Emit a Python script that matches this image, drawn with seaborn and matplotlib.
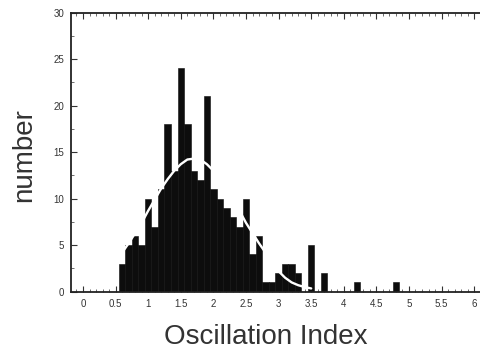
import numpy as np
import pandas as pd
import matplotlib
matplotlib.use("Agg")
import matplotlib.pyplot as plt
import seaborn as sns
from matplotlib.ticker import MultipleLocator, FixedLocator

# ---- data ----
bin_centers = [0.6, 0.7, 0.8, 0.9, 1.0, 1.1, 1.2, 1.3, 1.4, 1.5,
               1.6, 1.7, 1.8, 1.9, 2.0, 2.1, 2.2, 2.3, 2.4, 2.5,
               2.6, 2.7, 2.8, 2.9, 3.0, 3.1, 3.2, 3.3, 3.4, 3.5,
               3.6, 3.7, 3.8, 3.9, 4.0, 4.1, 4.2, 4.3, 4.4, 4.5,
               4.6, 4.7, 4.8]
counts = [3, 5, 6, 5, 10, 7, 11, 18, 13, 24,
          18, 13, 12, 21, 11, 10, 9, 8, 7, 10,
          4, 6, 1, 1, 2, 3, 3, 2, 0, 5,
          0, 2, 0, 0, 0, 0, 1, 0, 0, 0,
          0, 0, 1]
bin_width = 0.1

fit_x = [0.6, 0.7, 0.8, 0.9, 1.0, 1.1, 1.2, 1.3, 1.4, 1.5,
         1.6, 1.7, 1.8, 1.9, 2.0, 2.1, 2.2, 2.3, 2.4, 2.5,
         2.6, 2.7, 2.8, 2.9, 3.0, 3.1, 3.2, 3.3, 3.4, 3.5]
fit_y = [4.2, 5.2, 6.3, 7.4, 8.7, 9.9, 11.1, 12.1, 13.0, 13.7,
         14.2, 14.3, 14.2, 13.7, 13.0, 12.1, 11.1, 9.9, 8.7, 7.4,
         6.3, 5.2, 4.2, 3.0, 2.2, 1.5, 1.0, 0.7, 0.5, 0.35]

x_ticks = [0, 0.5, 1, 1.5, 2, 2.5, 3, 3.5, 4, 4.5, 5, 5.5, 6]
x_tick_labels = ["0", "0.5", "1", "1.5", "2", "2.5", "3", "3.5", "4",
                 "4.5", "5", "5.5", "6"]
y_ticks = [0, 5, 10, 15, 20, 25, 30]
y_tick_labels = ["0", "5", "10", "15", "20", "25", "30"]

x_label = "Oscillation Index"
y_label = "number"

# ---- style ----
sns.set_theme(style="white")
plt.rcParams["font.family"] = ["Liberation Sans", "DejaVu Sans"]

fig = plt.figure(figsize=(4.8, 3.54), dpi=100)
ax = fig.add_axes([71 / 480, 1 - 291.7 / 354, 411 / 480, 279.2 / 354])

hist_df = pd.DataFrame({"center": bin_centers, "count": counts})
edges = [c - bin_width / 2 for c in bin_centers] + [bin_centers[-1] + bin_width / 2]
sns.histplot(data=hist_df, x="center", weights="count", bins=edges, ax=ax,
             color="#0d0d0d", edgecolor="#0d0d0d", linewidth=0.4,
             alpha=1.0, fill=True)

fit_df = pd.DataFrame({"x": fit_x, "y": fit_y})
sns.lineplot(data=fit_df, x="x", y="y", ax=ax, color="white", linewidth=1.7,
             estimator=None, sort=False)

ax.set_xlim(-0.184, 6.12)
ax.set_ylim(0, 30)

ax.xaxis.set_major_locator(FixedLocator(x_ticks))
ax.set_xticklabels(x_tick_labels)
ax.xaxis.set_minor_locator(MultipleLocator(0.1))
ax.yaxis.set_major_locator(FixedLocator(y_ticks))
ax.set_yticklabels(y_tick_labels)
ax.yaxis.set_minor_locator(MultipleLocator(2.5))

ax.tick_params(axis="both", which="major", direction="in", length=4.5,
               width=0.8, color="#333333", labelsize=7, labelcolor="#333333",
               top=True, right=False, bottom=True, left=True)
ax.tick_params(axis="both", which="minor", direction="in", length=2,
               width=0.6, color="#555555", top=True, right=False,
               bottom=True, left=True)
ax.tick_params(axis="x", which="major", pad=5)
ax.tick_params(axis="y", which="major", pad=5)

for s in ax.spines.values():
    s.set_color("#222222")
    s.set_linewidth(1.3)

ax.set_xlabel(x_label, fontsize=20, color="#333333")
ax.set_ylabel(y_label, fontsize=20, color="#333333")
ax.xaxis.set_label_coords(0.475, -0.115)
ax.xaxis.label.set_verticalalignment("top")
ax.yaxis.label.set_verticalalignment("center")
ax.yaxis.set_label_coords(-0.115, 0.49)

fig.savefig("out.png", dpi=100, facecolor="white")
